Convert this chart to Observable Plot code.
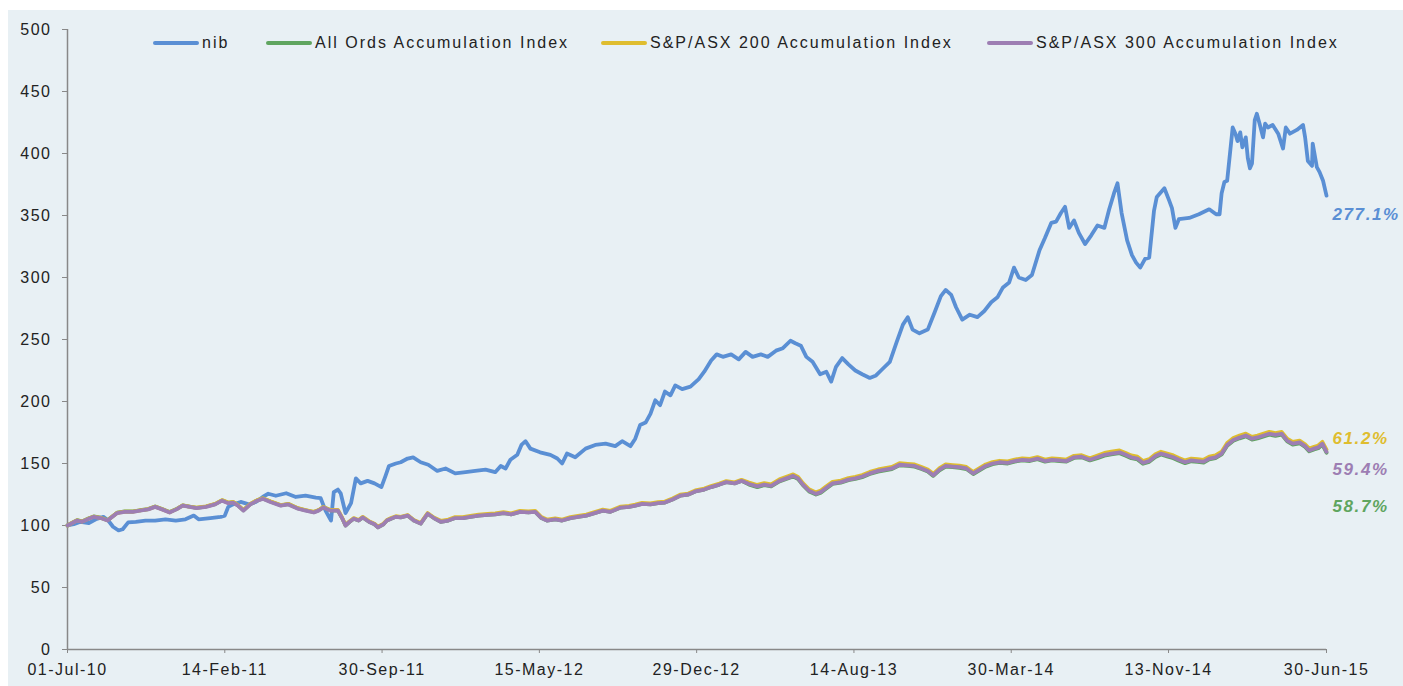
<!DOCTYPE html>
<html><head><meta charset="utf-8">
<script src="https://cdn.jsdelivr.net/npm/d3@7"></script>
<script src="https://cdn.jsdelivr.net/npm/@observablehq/plot@0.6"></script>
<style>
body{margin:0;background:#fff;font-family:"Liberation Sans",Arial,sans-serif;}
#wrap{position:absolute;left:8px;top:10px;width:1395px;height:676px;background:#e8f0f4;overflow:hidden}
.item{position:absolute;top:24px;height:18px;display:flex;align-items:center;font-size:16px;line-height:18px;letter-spacing:2px;color:#222;white-space:nowrap}
.sw{width:46px;height:4px;border-radius:2px;margin-right:3px}
#wrap svg text{letter-spacing:1.5px}
#wrap svg g[aria-label="text"] text{letter-spacing:1.6px}
#wrap svg g[aria-label="y-axis tick"] path, #wrap svg g[aria-label="x-axis tick"] path{stroke:#888}
</style></head><body><div id="wrap"></div><script>
// ---- data ----
const seriesNames = ["nib","All Ords Accumulation Index","S&P/ASX 200 Accumulation Index","S&P/ASX 300 Accumulation Index"];
const seriesColors = ["#5a8fd4","#5fa55f","#dfbd2f","#9d7eb3"];
const endLabels = ["277.1%","58.7%","61.2%","59.4%"];
const yTicks = [0,50,100,150,200,250,300,350,400,450,500];
const xTickDates = ["2010-07-01","2011-02-14","2011-09-30","2012-05-15","2012-12-29","2013-08-14","2014-03-30","2014-11-13","2015-06-30"];

const nib = [
["2010-07-01",100],["2010-07-10",101],["2010-07-20",103],["2010-08-01",102],["2010-08-11",105],["2010-08-22",107],
["2010-08-29",104],["2010-09-05",99],["2010-09-13",96],["2010-09-19",97],["2010-09-27",102.5],["2010-10-08",103],
["2010-10-22",104],["2010-11-05",104],["2010-11-20",105],["2010-12-05",104],["2010-12-19",105],["2010-12-31",108],
["2011-01-07",105],["2011-01-24",106],["2011-02-08",107],["2011-02-14",108],["2011-02-19",115],["2011-02-26",117],
["2011-03-09",119],["2011-03-21",117],["2011-03-31",119],["2011-04-10",123],["2011-04-18",125.6],["2011-04-29",124],
["2011-05-14",126],["2011-05-28",123],["2011-06-11",124],["2011-06-26",122.5],["2011-07-03",122],["2011-07-10",112],
["2011-07-18",104],["2011-07-22",127],["2011-07-28",129],["2011-08-01",126],["2011-08-08",110],["2011-08-16",118],
["2011-08-23",138],["2011-08-30",134],["2011-09-09",136],["2011-09-19",134],["2011-09-29",131],["2011-10-05",140],
["2011-10-10",148],["2011-10-20",150],["2011-10-27",151],["2011-11-06",154],["2011-11-14",155],["2011-11-25",151],
["2011-12-06",149],["2011-12-19",144],["2011-12-31",146],["2012-01-14",142],["2012-01-29",143],["2012-02-12",144],
["2012-02-27",145],["2012-03-12",143],["2012-03-20",148],["2012-03-27",146],["2012-04-03",153],["2012-04-13",157],
["2012-04-19",165],["2012-04-25",168],["2012-05-02",162],["2012-05-16",159],["2012-05-31",157],["2012-06-10",154],
["2012-06-17",150],["2012-06-24",158],["2012-07-06",155],["2012-07-21",162],["2012-08-04",165],["2012-08-19",166],
["2012-09-02",164],["2012-09-12",168],["2012-09-24",164],["2012-10-01",170],["2012-10-08",181],["2012-10-16",183],
["2012-10-23",190],["2012-10-30",201],["2012-11-06",197],["2012-11-13",208],["2012-11-21",205],["2012-11-28",213],
["2012-12-08",210],["2012-12-20",212],["2013-01-01",218],["2013-01-09",224],["2013-01-19",233],["2013-01-27",238],
["2013-02-05",236],["2013-02-17",238],["2013-02-28",234],["2013-03-10",240],["2013-03-20",236],["2013-04-01",238],
["2013-04-11",236],["2013-04-23",241],["2013-05-03",243],["2013-05-14",249],["2013-05-21",247],["2013-05-29",245],
["2013-06-06",236],["2013-06-15",232],["2013-06-26",222],["2013-07-05",224],["2013-07-12",216],["2013-07-19",228],
["2013-07-28",235],["2013-08-06",230],["2013-08-16",225],["2013-08-26",222],["2013-09-06",219],["2013-09-15",221],
["2013-09-24",226],["2013-10-05",232],["2013-10-15",248],["2013-10-24",262],["2013-10-31",268],["2013-11-07",258],
["2013-11-17",255],["2013-11-29",258],["2013-12-09",272],["2013-12-18",285],["2013-12-25",290],["2014-01-02",286],
["2014-01-09",276],["2014-01-18",266],["2014-01-29",270],["2014-02-09",268],["2014-02-19",273],["2014-03-01",280],
["2014-03-10",284],["2014-03-18",292],["2014-03-27",296],["2014-04-03",308],["2014-04-10",300],["2014-04-20",298],
["2014-04-29",302],["2014-05-10",322],["2014-05-18",332],["2014-05-27",344],["2014-06-03",345],["2014-06-10",352],
["2014-06-16",357],["2014-06-22",340],["2014-06-29",346],["2014-07-06",336],["2014-07-15",327],["2014-07-24",334],
["2014-08-02",342],["2014-08-12",340],["2014-08-19",355],["2014-08-26",368],["2014-08-31",376],["2014-09-06",352],
["2014-09-14",330],["2014-09-21",318],["2014-09-27",312],["2014-10-03",308],["2014-10-10",315],["2014-10-16",316],
["2014-10-23",354],["2014-10-27",365],["2014-11-07",372],["2014-11-14",362],["2014-11-18",356],["2014-11-23",340],
["2014-11-28",347],["2014-12-13",348],["2014-12-27",351],["2015-01-11",355],["2015-01-21",351],["2015-01-26",351],
["2015-01-29",368],["2015-02-02",377],["2015-02-06",378],["2015-02-14",421],["2015-02-18",416],["2015-02-21",410],
["2015-02-25",417],["2015-02-28",405],["2015-03-05",413],["2015-03-08",396],["2015-03-11",388],["2015-03-14",392],
["2015-03-18",427],["2015-03-21",432],["2015-03-25",424],["2015-03-30",413],["2015-04-02",424],["2015-04-06",421],
["2015-04-13",423],["2015-04-21",416],["2015-04-28",404],["2015-05-02",421],["2015-05-08",416],["2015-05-18",419],
["2015-05-27",423],["2015-05-30",413],["2015-06-03",394],["2015-06-09",390],["2015-06-10",408],["2015-06-16",389],
["2015-06-20",385],["2015-06-25",378],["2015-06-30",366]
];

const idxDates = [
"2010-07-01","2010-07-08","2010-07-15","2010-07-22","2010-08-01","2010-08-08","2010-08-18","2010-08-28","2010-09-04","2010-09-11",
"2010-09-22","2010-10-04","2010-10-14","2010-10-26","2010-11-05","2010-11-15","2010-11-26","2010-12-06","2010-12-15","2010-12-25",
"2011-01-04","2011-01-18","2011-01-31","2011-02-10","2011-02-19","2011-02-26","2011-03-05","2011-03-13","2011-03-23","2011-04-02",
"2011-04-10","2011-04-21","2011-05-06","2011-05-17","2011-05-31","2011-06-11","2011-06-23","2011-06-30","2011-07-07","2011-07-17",
"2011-07-28","2011-08-03","2011-08-08","2011-08-14","2011-08-20","2011-08-27","2011-09-02","2011-09-11","2011-09-19","2011-09-24",
"2011-10-02","2011-10-07","2011-10-13","2011-10-20","2011-10-27","2011-11-06","2011-11-15","2011-11-25","2011-12-05","2011-12-14",
"2011-12-24","2012-01-04","2012-01-14","2012-01-25","2012-02-05","2012-02-17","2012-03-01","2012-03-12","2012-03-24","2012-04-04",
"2012-04-17","2012-04-29","2012-05-09","2012-05-18","2012-05-26","2012-06-07","2012-06-17","2012-06-29","2012-07-10","2012-07-22",
"2012-08-03","2012-08-15","2012-08-26","2012-09-10","2012-09-22","2012-10-01","2012-10-11","2012-10-23","2012-11-03","2012-11-13",
"2012-11-24","2012-12-05","2012-12-17","2012-12-27","2013-01-09","2013-01-19","2013-01-31","2013-02-10","2013-02-22","2013-03-04",
"2013-03-15","2013-03-27","2013-04-06","2013-04-16","2013-04-28","2013-05-08","2013-05-18","2013-05-25","2013-06-01","2013-06-10",
"2013-06-20","2013-06-27","2013-07-04","2013-07-14","2013-07-26","2013-08-06","2013-08-16","2013-08-26","2013-09-06","2013-09-18",
"2013-09-28","2013-10-08","2013-10-19","2013-10-31","2013-11-10","2013-11-20","2013-11-29","2013-12-07","2013-12-16","2013-12-25",
"2014-01-04","2014-01-14","2014-01-24","2014-02-03","2014-02-12","2014-02-21","2014-03-03","2014-03-13","2014-03-25","2014-04-04",
"2014-04-15","2014-04-26","2014-05-07","2014-05-18","2014-05-28","2014-06-08","2014-06-18","2014-06-29","2014-07-10","2014-07-22",
"2014-08-02","2014-08-12","2014-08-22","2014-09-03","2014-09-12","2014-09-20","2014-09-29","2014-10-07","2014-10-16","2014-10-25",
"2014-11-02","2014-11-11","2014-11-20","2014-11-28","2014-12-07","2014-12-16","2014-12-25","2015-01-03","2015-01-11","2015-01-20",
"2015-01-29","2015-02-06","2015-02-15","2015-02-24","2015-03-05","2015-03-14","2015-03-22","2015-03-31","2015-04-08","2015-04-17",
"2015-04-26","2015-05-04","2015-05-12","2015-05-22","2015-05-30","2015-06-05","2015-06-12","2015-06-18","2015-06-24","2015-06-30"
];

const allOrds = [
100,102.3,104.3,103.3,105.8,107.3,106.3,104.3,107.3,110.3,
111.3,111.3,112.3,113.3,115.3,113.3,110.8,113.3,116.3,115.3,
114.3,115.3,117.3,120.3,118.3,118.8,116.3,112.3,117.3,120.3,
121.8,119.3,116.3,117.3,113.8,112.3,110.8,112.3,114.8,112.3,
112,106,100,103,105.5,104,106.5,103,101,98.5,
101,104,105.5,107,106.5,108,104,101.5,109.5,106,
103,104,106,106,107,108,108.5,109,110,109,
111,110.5,111,106,104,105,104,106,107,108,
110,112,111,114.5,115,116,117.5,117,118,118.5,
121,124,125,127.5,129,131,133,135,134,136,
133,131,132.5,131.5,135.5,137.5,139.5,137.5,132.5,127.5,
125,126.5,129.5,133.5,134.5,136.5,137.5,139,141.5,143.5,
144.5,145.5,148.5,148,147.5,145.5,143.5,140,144.5,147.5,
147,146.5,145.5,141.5,144.5,147.5,149.5,150.5,150,151.5,
152.5,152,153.5,151.5,152.5,152,151.5,154.5,155,152.5,
154.3,156.3,157.3,158.3,156.3,154.3,153.3,149.8,151.3,155.3,
157.3,155.8,154.3,152.3,150.3,151.8,151.3,150.8,153.3,154.3,
157.3,164.3,168.3,170.3,171.9,169.3,170.3,171.9,173.3,172.3,
173.3,167.8,165.3,166.3,163.3,159.8,161.3,162.3,165.3,158.7
];

const asx200 = [
100,102.2,104.2,103.2,105.7,107.2,106.2,104.2,107.2,110.2,
111.2,111.2,112.2,113.2,115.2,113.2,110.7,113.2,116.2,115.2,
114.5,115.5,117.5,120.5,118.5,119,116.5,112.5,117.5,120.5,
122,119.5,116.5,117.5,114,112.5,111,112.5,115,112.5,
112.5,106.5,100.5,103.5,106,104.5,107,103.5,101.5,99,
101.5,104.5,106,107.5,107,108.5,104.5,102,110,106.5,
103.8,104.8,106.8,106.8,107.8,108.8,109.3,109.8,110.8,109.8,
111.8,111.3,111.8,106.8,104.8,105.8,104.8,106.8,107.8,108.8,
110.8,112.8,111.8,115.3,115.8,116.8,118.3,117.8,118.8,119.3,
121.8,124.8,125.8,128.3,129.8,131.8,133.8,135.8,134.8,136.8,
134.7,132.7,134.2,133.2,137.2,139.2,141.2,139.2,134.2,129.2,
126.7,128.2,131.2,135.2,136.2,138.2,139.2,140.7,143.2,145.2,
146.2,147.2,150.2,149.7,149.2,147.2,145.2,141.7,146.2,149.2,
148.7,148.2,147.2,143.2,146.2,149.2,151.2,152.2,151.7,153.2,
154.2,153.7,155.2,153.2,154.2,153.7,153.2,156.2,156.7,154.2,
156.5,158.5,159.5,160.5,158.5,156.5,155.5,152,153.5,157.5,
159.5,158,156.5,154.5,152.5,154,153.5,153,155.5,156.5,
159.5,166.5,170.5,172.5,174.1,171.5,172.5,174.1,175.5,174.5,
175.5,170,167.5,168.5,165.5,162,163.5,164.5,167.5,161.2
];

const asx300 = [
100,102,104,103,105.5,107,106,104,107,110,
111,111,112,113,115,113,110.5,113,116,115,
114,115,117,120,118,118.5,116,112,117,120,
121.5,119,116,117,113.5,112,110.5,112,114.5,112,
112,106,100,103,105.5,104,106.5,103,101,98.5,
101,104,105.5,107,106.5,108,104,101.5,109.5,106,
103,104,106,106,107,108,108.5,109,110,109,
111,110.5,111,106,104,105,104,106,107,108,
110,112,111,114.5,115,116,117.5,117,118,118.5,
121,124,125,127.5,129,131,133,135,134,136,
133.5,131.5,133,132,136,138,140,138,133,128,
125.5,127,130,134,135,137,138,139.5,142,144,
145,146,149,148.5,148,146,144,140.5,145,148,
147.5,147,146,142,145,148,150,151,150.5,152,
153,152.5,154,152,153,152.5,152,155,155.5,153,
155,157,158,159,157,155,154,150.5,152,156,
158,156.5,155,153,151,152.5,152,151.5,154,155,
158,165,169,171,172.6,170,171,172.6,174,173,
174,168.5,166,167,164,160.5,162,163,166,159.4
];

// ---- build table ----
const parse = s => new Date(s + "T00:00:00Z");
const rows = [];
nib.forEach(([d, v]) => rows.push({series: seriesNames[0], date: parse(d), value: v}));
[allOrds, asx200, asx300].forEach((arr, k) => {
  arr.forEach((v, i) => rows.push({series: seriesNames[k + 1], date: parse(idxDates[i]), value: v}));
});
const start = parse(idxDates[0]);
const end = parse(idxDates[idxDates.length - 1]);
const labelRows = [
  {date: end, pos: 350.5, text: endLabels[0], color: seriesColors[0]},
  {date: end, pos: 115.5, text: endLabels[1], color: seriesColors[1]},
  {date: end, pos: 170, text: endLabels[2], color: seriesColors[2]},
  {date: end, pos: 145, text: endLabels[3], color: seriesColors[3]}
];

const chart = Plot.plot({
  width: 1395, height: 676,
  marginLeft: 59, marginRight: 77, marginTop: 19, marginBottom: 37,
  style: {background: "transparent", fontFamily: "'Liberation Sans', Arial, sans-serif", fontSize: "16px", color: "#222", overflow: "visible"},
  x: {type: "utc", domain: [start, end]},
  y: {domain: [0, 500]},
  marks: [
    Plot.axisY({ticks: yTicks, tickSize: 5, tickPadding: 11, label: null, tickFormat: d => String(d), stroke: "#888", fill: "#222"}),
    Plot.axisX({ticks: xTickDates.map(parse), tickSize: 4, tickPadding: 10, label: null, tickFormat: d3.utcFormat("%d-%b-%y"), stroke: "#888", fill: "#222"}),
    Plot.ruleX([start], {y1: 0, y2: 500, stroke: "#888", strokeWidth: 1.5}),
    Plot.ruleY([0], {x1: start, x2: end, stroke: "#888", strokeWidth: 1.5}),
    ...seriesNames.map((name, k) => Plot.line(rows.filter(r => r.series === name), {
      x: "date", y: "value", stroke: seriesColors[k], strokeWidth: 3.8, strokeLinejoin: "round", strokeLinecap: "round"
    })),
    Plot.text(labelRows, {x: "date", y: "pos", text: "text", fill: "color", dx: 6, textAnchor: "start",
      fontSize: 17, fontWeight: "bold", fontStyle: "italic"})
  ]
});
const wrap = document.getElementById("wrap");
wrap.appendChild(chart);

// legend (inside plot area, top)
const legendLeft = [145, 258, 593, 979];
seriesNames.forEach((name, k) => {
  const it = document.createElement("div");
  it.className = "item";
  it.style.left = legendLeft[k] + "px";
  const sw = document.createElement("span");
  sw.className = "sw";
  sw.style.background = seriesColors[k];
  const tx = document.createElement("span");
  tx.textContent = name;
  it.appendChild(sw); it.appendChild(tx);
  wrap.appendChild(it);
});
</script></body></html>
